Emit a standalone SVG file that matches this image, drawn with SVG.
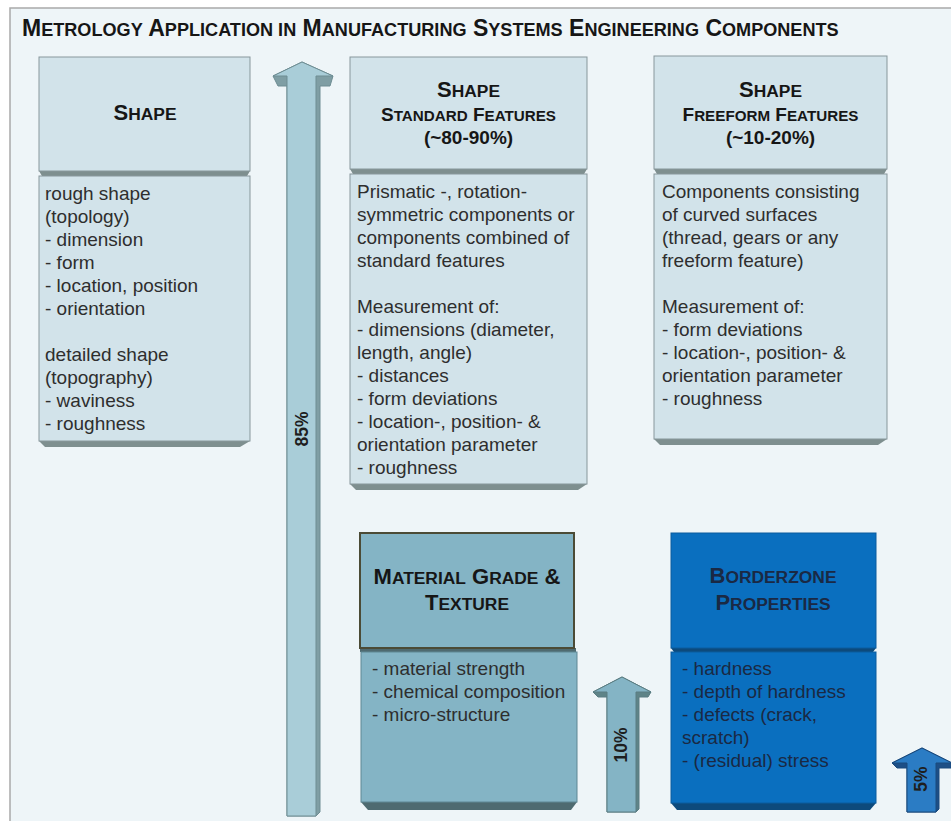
<svg xmlns="http://www.w3.org/2000/svg" width="951" height="821" viewBox="0 0 951 821">
  <style>
    .hd { font-family: "Liberation Sans", Arial, sans-serif; font-weight: bold; fill: #161616; text-anchor: middle; }
    .hd .L { font-size: 22px; }
    .hd .s { font-size: 17.4px; }
    .title .L { font-size: 23px; }
    .title .s { font-size: 18.1px; }
    .sub .L { font-size: 19px; }
    .sub .s { font-size: 15.2px; }
    .pct { font-family: "Liberation Sans", Arial, sans-serif; font-weight: bold; font-size: 19px; fill: #161616; text-anchor: middle; }
    .body { font-family: "Liberation Sans", Arial, sans-serif; font-size: 19px; fill: #2e2e2e; }
    .light { fill: #d2e3ea; stroke: #87979b; stroke-width: 1; }
    .lightShade { fill: #7e8f8f; }
    .mat { fill: #84b4c5; stroke: #5f8793; stroke-width: 1; }
    .matHead { fill: #84b4c5; stroke: #4b4b36; stroke-width: 2; }
    .matShade { fill: #4e6a70; }
    .bz { fill: #0a6fbf; stroke: #0a5c9e; stroke-width: 1; }
    .bzShade { fill: #0d4a7c; }
    .bzText { fill: #1a2944; }
    .rot { font-family: "Liberation Sans", Arial, sans-serif; font-weight: bold; font-size: 17.5px; fill: #1e1e1e; text-anchor: middle; }
  </style>

  <!-- page and frame -->
  <rect x="0" y="0" width="951" height="821" fill="#ffffff"/>
  <rect x="10" y="8" width="960" height="830" fill="#eef5f8" stroke="#a9a9a9" stroke-width="1.5"/>

  <!-- title in small caps -->
  <text x="22" y="36" class="hd title" style="text-anchor:start">
    <tspan class="L">M</tspan><tspan class="s">ETROLOGY</tspan><tspan class="L"> A</tspan><tspan class="s">PPLICATION IN</tspan><tspan class="L"> M</tspan><tspan class="s">ANUFACTURING</tspan><tspan class="L"> S</tspan><tspan class="s">YSTEMS</tspan><tspan class="L"> E</tspan><tspan class="s">NGINEERING</tspan><tspan class="L"> C</tspan><tspan class="s">OMPONENTS</tspan>
  </text>

  <!-- shape overview -->
  <g id="shape">
    <polygon class="lightShade" points="39,171 250,171 247,176 42,176"/>
    <rect class="light" x="39" y="57" width="211" height="114"/>
    <text x="145" y="120" class="hd"><tspan class="L">S</tspan><tspan class="s">HAPE</tspan></text>
    <polygon class="lightShade" points="39,441 250,441 240,447 45,447"/>
    <rect class="light" x="39" y="176" width="211" height="265"/>
    <text class="body">
      <tspan x="45" y="200">rough shape</tspan>
      <tspan x="45" y="223">(topology)</tspan>
      <tspan x="45" y="246">- dimension</tspan>
      <tspan x="45" y="269">- form</tspan>
      <tspan x="45" y="292">- location, position</tspan>
      <tspan x="45" y="315">- orientation</tspan>
      <tspan x="45" y="361">detailed shape</tspan>
      <tspan x="45" y="384">(topography)</tspan>
      <tspan x="45" y="407">- waviness</tspan>
      <tspan x="45" y="430">- roughness</tspan>
    </text>
  </g>

  <!-- standard features -->
  <g id="shape-standard">
    <polygon class="lightShade" points="350,169 587,169 584,174 353,174"/>
    <rect class="light" x="350" y="57" width="237" height="112"/>
    <text x="468.5" y="97" class="hd"><tspan class="L">S</tspan><tspan class="s">HAPE</tspan></text>
    <text x="468.5" y="121" class="hd sub"><tspan class="L">S</tspan><tspan class="s">TANDARD</tspan><tspan class="L"> F</tspan><tspan class="s">EATURES</tspan></text>
    <text x="468.5" y="144" class="pct">(~80-90%)</text>
    <polygon class="lightShade" points="350,484 587,484 578,490 356,490"/>
    <rect class="light" x="350" y="174" width="237" height="310"/>
    <text class="body">
      <tspan x="357" y="198">Prismatic -, rotation-</tspan>
      <tspan x="357" y="221">symmetric components or</tspan>
      <tspan x="357" y="244">components combined of</tspan>
      <tspan x="357" y="267">standard features</tspan>
      <tspan x="357" y="313">Measurement of:</tspan>
      <tspan x="357" y="336">- dimensions (diameter,</tspan>
      <tspan x="357" y="359">length, angle)</tspan>
      <tspan x="357" y="382">- distances</tspan>
      <tspan x="357" y="405">- form deviations</tspan>
      <tspan x="357" y="428">- location-, position- &amp;</tspan>
      <tspan x="357" y="451">orientation parameter</tspan>
      <tspan x="357" y="474">- roughness</tspan>
    </text>
  </g>

  <!-- freeform features -->
  <g id="shape-freeform">
    <polygon class="lightShade" points="654,169 887,169 884,174 657,174"/>
    <rect class="light" x="654" y="56" width="233" height="113"/>
    <text x="770.5" y="97" class="hd"><tspan class="L">S</tspan><tspan class="s">HAPE</tspan></text>
    <text x="770.5" y="121" class="hd sub"><tspan class="L">F</tspan><tspan class="s">REEFORM</tspan><tspan class="L"> F</tspan><tspan class="s">EATURES</tspan></text>
    <text x="770.5" y="144" class="pct">(~10-20%)</text>
    <polygon class="lightShade" points="654,439 887,439 878,445 660,445"/>
    <rect class="light" x="654" y="174" width="233" height="265"/>
    <text class="body">
      <tspan x="662" y="198">Components consisting</tspan>
      <tspan x="662" y="221">of curved surfaces</tspan>
      <tspan x="662" y="244">(thread, gears or any</tspan>
      <tspan x="662" y="267">freeform feature)</tspan>
      <tspan x="662" y="313">Measurement of:</tspan>
      <tspan x="662" y="336">- form deviations</tspan>
      <tspan x="662" y="359">- location-, position- &amp;</tspan>
      <tspan x="662" y="382">orientation parameter</tspan>
      <tspan x="662" y="405">- roughness</tspan>
    </text>
  </g>

  <!-- material grade and texture -->
  <g id="material">
    <polygon class="matShade" points="360,648 576,648 576,652 360,652"/>
    <rect class="matHead" x="360" y="533" width="214" height="115"/>
    <text x="467" y="584" class="hd"><tspan class="L">M</tspan><tspan class="s">ATERIAL</tspan><tspan class="L"> G</tspan><tspan class="s">RADE</tspan><tspan class="L"> &amp;</tspan></text>
    <text x="467" y="610" class="hd"><tspan class="L">T</tspan><tspan class="s">EXTURE</tspan></text>
    <polygon class="matShade" points="361,802 577,802 571,810 368,810"/>
    <rect class="mat" x="361" y="652" width="216" height="150"/>
    <text class="body">
      <tspan x="372" y="675">- material strength</tspan>
      <tspan x="372" y="698">- chemical composition</tspan>
      <tspan x="372" y="721">- micro-structure</tspan>
    </text>
  </g>

  <!-- borderzone properties -->
  <g id="borderzone">
    <polygon class="bzShade" points="671,648 876,648 873,652 674,652"/>
    <rect class="bz" x="671" y="533" width="205" height="115"/>
    <text x="773" y="583" class="hd bzText"><tspan class="L">B</tspan><tspan class="s">ORDERZONE</tspan></text>
    <text x="773" y="610" class="hd bzText"><tspan class="L">P</tspan><tspan class="s">ROPERTIES</tspan></text>
    <polygon class="bzShade" points="671,803 876,803 870,810 677,810"/>
    <rect class="bz" x="671" y="652" width="205" height="151"/>
    <text class="body bzText">
      <tspan x="682" y="675">- hardness</tspan>
      <tspan x="682" y="698">- depth of hardness</tspan>
      <tspan x="682" y="721">- defects (crack,</tspan>
      <tspan x="682" y="744">scratch)</tspan>
      <tspan x="682" y="767">- (residual) stress</tspan>
    </text>
  </g>

  <!-- share arrows -->
  <g id="connectors">
    <g id="arrow-85">
      <polygon fill="#7f9ea4" stroke="#6e8d93" stroke-width="1" points="302,62 333,76 330,86 320,86 320,812 316,816 287,816 287,86 278,86 273,76"/>
      <polygon fill="#a9cdd8" stroke="#6e8d93" stroke-width="1" points="302,62 333,76 316,76 316,816 287,816 287,76 273,76"/>
      <text class="rot" transform="translate(307.5,429) rotate(-90)">85%</text>
    </g>
    <g id="arrow-10">
      <polygon fill="#5f8488" stroke="#5b7d82" stroke-width="1" points="622,677 651,692 648,697 639,697 639,809 636,812 607,812 607,697 598,697 593,692"/>
      <polygon fill="#84b4c5" stroke="#5b7d82" stroke-width="1" points="622,677 651,692 636,692 636,812 607,812 607,692 593,692"/>
      <text class="rot" transform="translate(627,745) rotate(-90)">10%</text>
    </g>
    <g id="arrow-5">
      <polygon fill="#1d4f86" stroke="#1b4a7c" stroke-width="1" points="922,748 952,763 952,768 939,768 939,809 936,812 907,812 907,768 897,768 892,763"/>
      <polygon fill="#2b7cc4" stroke="#1b4a7c" stroke-width="1" points="922,748 952,763 936,763 936,812 907,812 907,763 892,763"/>
      <text class="rot" transform="translate(927,779) rotate(-90)">5%</text>
    </g>
  </g>
</svg>
